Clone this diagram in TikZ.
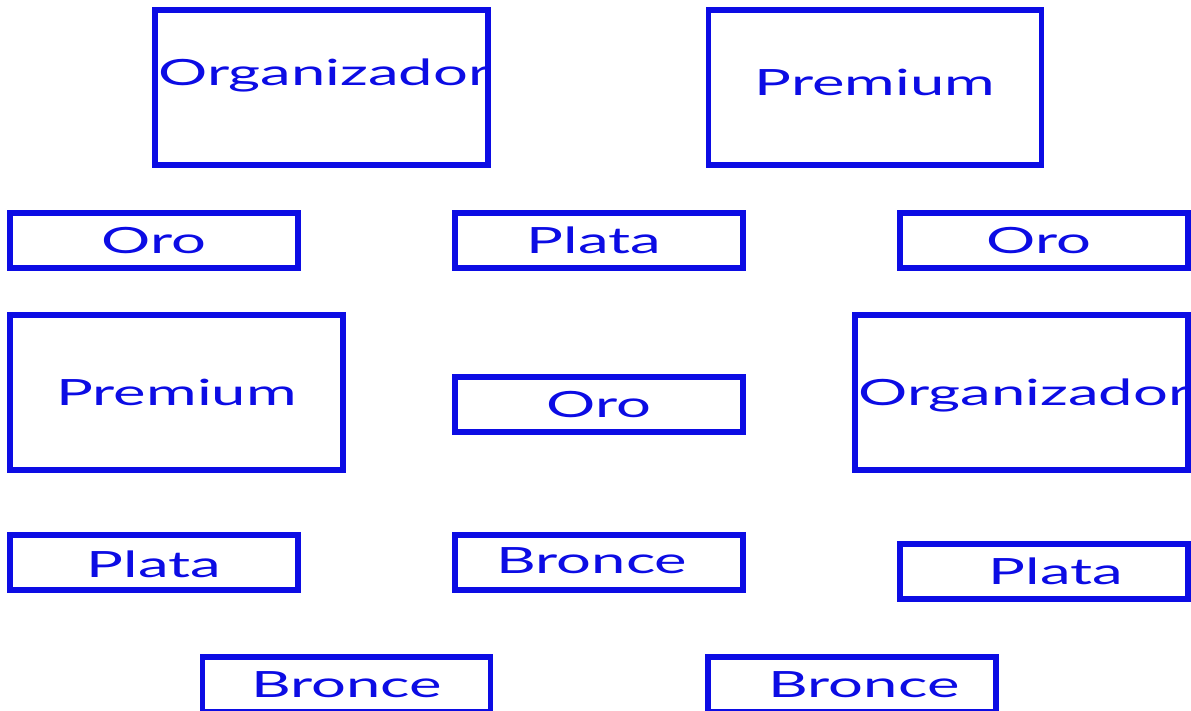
\documentclass[tikz,border=0pt]{standalone}
\usepackage{fontspec}
\setmainfont[FakeStretch=1.7]{Lato}
\usepackage{tikz}
\usetikzlibrary{positioning}
\definecolor{tierblue}{RGB}{12,12,228}

\begin{document}
\begin{tikzpicture}[
    tier/.style={draw=tierblue, line width=1.6pt, inner sep=0pt},
    bigbox/.style={tier, minimum width=3.33cm, minimum height=1.55cm},
    smallbox/.style={tier, minimum width=2.88cm, minimum height=0.55cm},
    lbl/.style={text=tierblue, font=\fontsize{10.3}{12}\selectfont, inner sep=0pt, text height=0.26cm, text depth=0cm}
]
\useasboundingbox (0,0) rectangle (11.91,-7.11);

\node[bigbox, label={[lbl, yshift=0.15cm, xshift=0.03cm]center:Organizador}] (org1) at (3.215,-0.875) {};
\node[bigbox, label={[lbl, yshift=0.05cm]center:Premium}] (prem1) at (8.75,-0.875) {};

\node[smallbox, label={[lbl]center:Oro}] (oro1) at (1.54,-2.405) {};
\node[smallbox, label={[lbl, xshift=-0.05cm]center:Plata}] (plata1) at (5.99,-2.405) {};
\node[smallbox, label={[lbl, xshift=-0.05cm]center:Oro}] (oro2) at (10.44,-2.405) {};

\node[bigbox, label={[lbl]center:Premium}] (prem2) at (1.765,-3.925) {};
\node[smallbox, label={[lbl]center:Oro}] (oro3) at (5.99,-4.045) {};
\node[bigbox, label={[lbl, xshift=0.03cm]center:Organizador}] (org2) at (10.215,-3.925) {};

\node[smallbox, label={[lbl, yshift=-0.02cm]center:Plata}] (plata2) at (1.54,-5.625) {};
\node[smallbox, label={[lbl, xshift=-0.07cm, yshift=0.015cm]center:Bronce}] (bronce1) at (5.99,-5.625) {};
\node[smallbox, label={[lbl, xshift=0.12cm]center:Plata}] (plata3) at (10.44,-5.715) {};

\node[smallbox, label={[lbl]center:Bronce}] (bronce2) at (3.465,-6.845) {};
\node[smallbox, label={[lbl, xshift=0.12cm]center:Bronce}] (bronce3) at (8.52,-6.845) {};
\end{tikzpicture}
\end{document}
